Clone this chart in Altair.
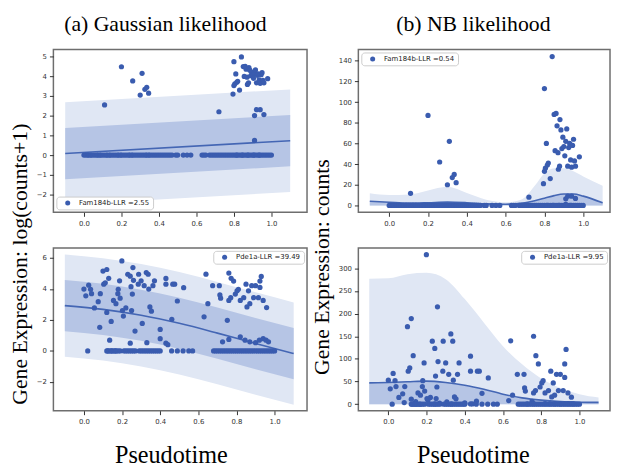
import altair as alt
import numpy as np
import pandas as pd

# ---------------- data ----------------
# Fam184b: non-zero cells (pseudotime, counts)
fam_x = [0.11, 0.20, 0.26, 0.30, 0.31, 0.325, 0.335, 0.345, 0.72,
         0.795, 0.80, 0.80, 0.805, 0.81, 0.815, 0.82, 0.83, 0.84, 0.85, 0.855,
         0.86, 0.865, 0.87, 0.872, 0.878, 0.88, 0.885, 0.89, 0.895, 0.90, 0.905,
         0.91, 0.915, 0.92, 0.925, 0.93, 0.935, 0.94, 0.945, 0.95, 0.955, 0.96,
         0.98, 0.91, 0.92, 0.94, 0.96, 0.91]
fam_counts = [11.7, 87, 42, 20, 62, 27, 30, 22, 8,
              21, 113, 33, 36, 60, 39, 41, 26, 144, 88, 53,
              89, 77, 51, 35, 38, 83, 73, 55, 66, 57, 48,
              62, 74, 38, 56, 60, 44, 37, 58, 64, 43, 38,
              47, 6.4, 9, 9, 6.8, 1.1]
fam_zero_x = [0.00, 0.01, 0.02, 0.025, 0.035, 0.04, 0.05, 0.06, 0.07, 0.075, 0.085,
              0.09, 0.10, 0.11, 0.12, 0.125, 0.135, 0.14, 0.15, 0.16, 0.17, 0.18,
              0.185, 0.195, 0.20, 0.21, 0.22, 0.23, 0.24, 0.245, 0.255, 0.26, 0.27,
              0.28, 0.29, 0.30, 0.31, 0.32, 0.33, 0.335, 0.345, 0.35, 0.36, 0.37,
              0.38, 0.39, 0.40, 0.41, 0.42, 0.43, 0.44, 0.45, 0.46, 0.47, 0.49,
              0.50, 0.53, 0.55, 0.57, 0.63, 0.64, 0.65, 0.67, 0.68, 0.69, 0.70,
              0.71, 0.72, 0.73, 0.74, 0.75, 0.76, 0.77, 0.78, 0.79, 0.80, 0.81,
              0.815, 0.82, 0.83, 0.84, 0.845, 0.85, 0.86, 0.87, 0.875, 0.88, 0.89,
              0.90, 0.905, 0.91, 0.92, 0.93, 0.935, 0.94, 0.95, 0.96, 0.97, 0.98,
              0.99, 1.00]

# Pde1a: non-zero cells (pseudotime, counts)
pde_x = [0.00, 0.01, 0.025, 0.035, 0.04, 0.055, 0.075, 0.083, 0.086, 0.10, 0.104,
         0.112, 0.12, 0.12, 0.13, 0.135, 0.143, 0.155, 0.168, 0.178, 0.18, 0.187,
         0.19, 0.199, 0.202, 0.207, 0.22, 0.23, 0.243, 0.247, 0.257, 0.26, 0.254,
         0.25, 0.268, 0.243, 0.287, 0.285, 0.30, 0.306, 0.316, 0.327, 0.337, 0.34,
         0.346, 0.354, 0.33, 0.37, 0.362, 0.40, 0.40, 0.43, 0.43, 0.43, 0.44,
         0.461, 0.466, 0.476, 0.49, 0.523, 0.63, 0.64, 0.65, 0.675, 0.71, 0.713,
         0.717, 0.727, 0.752, 0.76, 0.772, 0.785, 0.76, 0.77, 0.76, 0.794, 0.803,
         0.81, 0.82, 0.838, 0.85, 0.855, 0.863, 0.87, 0.88, 0.89, 0.90, 0.915,
         0.923, 0.93, 0.923, 0.94, 0.958, 0.82, 0.845, 0.87, 0.90, 0.92, 0.94,
         0.955, 0.968]
pde_counts = [53, 34, 68, 52, 39, 15, 23, 3.6, 39, 171, 73,
              80, 189, 11, 107, 1, 5.7, 25, 20, 39, 52, 91,
              29, 330, 12.5, 8.5, 15, 139, 123, 62, 215, 94, 38,
              12.5, 2.6, 0.65, 139, 73, 91, 4.9, 66, 155, 139, 53,
              16, 12, 0.7, 91, 66, 3, 1.2, 73, 106, 0.65, 0.5,
              6.7, 73, 73, 24, 58, 8, 140, 20, 66, 66, 36,
              29, 0.8, 6.2, 150, 107, 89, 25, 30, 1.1, 38, 47,
              52, 25, 30, 73, 16, 47, 20, 66, 30, 66, 30,
              89, 121, 59, 25, 15.4, 1.5, 1, 0.8, 0.7, 1, 1.2,
              1, 0.8]
pde_zero_x = [0.02, 0.12, 0.125, 0.13, 0.14, 0.145, 0.15, 0.16, 0.165, 0.17, 0.18,
              0.19, 0.21, 0.22, 0.23, 0.24, 0.25, 0.26, 0.27, 0.29, 0.30, 0.31,
              0.32, 0.33, 0.34, 0.35, 0.36, 0.37, 0.38, 0.39, 0.40, 0.46, 0.49,
              0.52, 0.55, 0.57, 0.68, 0.69, 0.70, 0.71, 0.72, 0.73, 0.74, 0.75,
              0.76, 0.77, 0.78, 0.79, 0.80, 0.81, 0.82, 0.83, 0.84, 0.85, 0.86,
              0.87, 0.88, 0.89, 0.90, 0.91, 0.92, 0.93, 0.94, 0.95, 0.96, 0.97,
              0.98, 0.99, 1.00]

# Model bands
g_fam_t = [-0.1, 1.1]
g_fam_mean = [0.08, 0.73]
g_fam_ilo = [-1.22, -0.57]
g_fam_ihi = [1.38, 2.03]
g_fam_olo = [-2.52, -1.87]
g_fam_ohi = [2.68, 3.33]

g_pde_t = [-0.1, 0.1, 0.3, 0.5, 0.7, 0.9, 1.1]
g_pde_mean = [2.92, 2.68, 2.30, 1.78, 1.15, 0.48, -0.17]
g_pde_ilo = [1.27, 1.03, 0.65, 0.13, -0.50, -1.17, -1.82]
g_pde_ihi = [4.57, 4.33, 3.95, 3.43, 2.80, 2.13, 1.48]
g_pde_olo = [-0.38, -0.62, -1.00, -1.52, -2.15, -2.82, -3.47]
g_pde_ohi = [6.22, 5.98, 5.60, 5.08, 4.45, 3.78, 3.13]

nb_fam_t = [-0.1, 0.0, 0.1, 0.2, 0.3, 0.4, 0.5, 0.6, 0.65, 0.7, 0.75, 0.8, 0.85,
            0.9, 0.95, 1.0, 1.1]
nb_fam_mean = [4, 3, 2.2, 2.6, 3.2, 2.6, 1.5, 1.2, 1.5, 2.5, 4.5, 7, 9.5, 11, 11, 9, 2.5]
nb_fam_lo = [0, 0, 0, 0, 0, 0, 0, 0, 0, 0, 0, 0, 0, 0, 0, 0, 0]
nb_fam_hi = [11.7, 10, 10.5, 14.5, 18, 12, 5.5, 3, 4, 8, 19, 31, 36, 36, 33, 28, 19]

nb_pde_t = [-0.1, 0.0, 0.1, 0.2, 0.3, 0.4, 0.5, 0.6, 0.7, 0.8, 0.9, 1.0, 1.1]
nb_pde_mean = [47, 48, 49.5, 51, 48, 42, 33, 22, 14, 9, 6, 4.5, 4]
nb_pde_lo = [0, 0, 0, 0, 0, 0, 0, 0, 0, 0, 0, 0, 0]
nb_pde_hi = [277, 278, 287, 290, 276, 232, 180, 128, 88, 57, 36, 22, 15]

x_ticks = [0.0, 0.2, 0.4, 0.6, 0.8, 1.0]

# ---------------- styling ----------------
PT = "#3a5caf"
LINE = "#4466b4"
OUTER = "#e0e7f4"
INNER = "#b6c5e5"
SERIF = "Liberation Serif"


def points_df(xs, vs, zxs, label):
    return pd.DataFrame({"t": list(xs) + list(zxs),
                         "v": list(vs) + [0.0] * len(zxs),
                         "lab": label})


def panel(pts, band, xdom, ydom, width, lorient, xax, yax, interp, title=None):
    xs = alt.Scale(domain=xdom, nice=False, zero=False)
    ysc = alt.Scale(domain=ydom, nice=False, zero=False)
    X = alt.X("t:Q", scale=xs, axis=xax)
    outer = alt.Chart(band).mark_area(color=OUTER, interpolate=interp).encode(
        x=X, y=alt.Y("olo:Q", scale=ysc, axis=yax), y2="ohi:Q")
    inner = alt.Chart(band).mark_area(color=INNER, interpolate=interp).encode(
        x=X, y=alt.Y("ilo:Q", scale=ysc, axis=yax), y2="ihi:Q")
    line = alt.Chart(band).mark_line(color=LINE, strokeWidth=1.6,
                                     interpolate=interp).encode(
        x=X, y=alt.Y("mean:Q", scale=ysc, axis=yax))
    dots = alt.Chart(pts).mark_circle(size=28, opacity=1).encode(
        x=X, y=alt.Y("v:Q", scale=ysc, axis=yax),
        color=alt.Color("lab:N", scale=alt.Scale(range=[PT]),
                        legend=alt.Legend(orient=lorient, offset=3, title=None,
                                          fillColor="white", strokeColor="#cccccc",
                                          cornerRadius=3, padding=3,
                                          labelFont="DejaVu Sans", labelFontSize=7,
                                          labelColor="#222222", symbolSize=26,
                                          symbolType="circle", symbolOffset=5,
                                          labelOffset=8, symbolStrokeWidth=0)))
    ch = alt.layer(outer, inner, line, dots).properties(width=width, height=165)
    if title is not None:
        ch = ch.properties(title=title)
    return ch


def yaxis(ticks, title=None, tx=None, ty=None):
    kw = dict(values=ticks, format="d")
    if title is None:
        kw["title"] = None
    else:
        kw.update(title=title, titleX=tx, titleY=ty, titleAngle=270,
                  titleAlign="center", titleBaseline="alphabetic", titleFontSize=22)
    return alt.Axis(**kw)


def xaxis(title=None, tx=None):
    kw = dict(values=x_ticks, format=".1f")
    if title is None:
        kw["title"] = None
    else:
        kw.update(title=title, titleX=tx, titleY=52, titleAlign="center",
                  titleBaseline="alphabetic", titleFontSize=24.5)
    return alt.Axis(**kw)


def band_df(t, mean, ilo, ihi, olo, ohi):
    return pd.DataFrame({"t": t, "mean": mean, "ilo": ilo, "ihi": ihi,
                         "olo": olo, "ohi": ohi})


def col_title(text, dx):
    return alt.TitleParams(text, font=SERIF, fontSize=22, fontWeight="normal",
                           color="black", offset=14, dx=dx, anchor="middle")


fam_pts_counts = points_df(fam_x, fam_counts, fam_zero_x, "Fam184b-LLR =0.54")
fam_pts_log = points_df(fam_x, list(np.log1p(fam_counts)), fam_zero_x,
                        "Fam184b-LLR =2.55")
pde_pts_counts = points_df(pde_x, pde_counts, pde_zero_x, "Pde1a-LLR =9.95")
pde_pts_log = points_df(pde_x, list(np.log1p(pde_counts)), pde_zero_x,
                        "Pde1a-LLR =39.49")

tl = panel(fam_pts_log,
           band_df(g_fam_t, g_fam_mean, g_fam_ilo, g_fam_ihi, g_fam_olo, g_fam_ohi),
           [-0.163, 1.19], [-2.9, 5.35], 257, "bottom-left",
           xaxis(),
           yaxis([-2, -1, 0, 1, 2, 3, 4, 5], "Gene Expression: log(counts+1)", -27, 217),
           "linear", title=col_title("(a) Gaussian likelihood", -15))
tr = panel(fam_pts_counts,
           band_df(nb_fam_t, nb_fam_mean, nb_fam_lo, nb_fam_mean, nb_fam_lo, nb_fam_hi),
           [-0.159, 1.138], [-6.7, 150.8], 255, "top-left",
           xaxis(),
           yaxis([0, 20, 40, 60, 80, 100, 120, 140], "Gene Expression: counts", -30, 220),
           "monotone", title=col_title("(b) NB likelihood", -11))
bl = panel(pde_pts_log,
           band_df(g_pde_t, g_pde_mean, g_pde_ilo, g_pde_ihi, g_pde_olo, g_pde_ohi),
           [-0.16, 1.17], [-3.85, 6.64], 257, "top-right",
           xaxis("Pseudotime", 119),
           yaxis([-2, 0, 2, 4, 6]),
           "monotone")
br = panel(pde_pts_counts,
           band_df(nb_pde_t, nb_pde_mean, nb_pde_lo, nb_pde_mean, nb_pde_lo, nb_pde_hi),
           [-0.157, 1.16], [-14.4, 345], 255, "top-right",
           xaxis("Pseudotime", 116),
           yaxis([0, 50, 100, 150, 200, 250, 300]),
           "monotone")

chart = alt.concat(tl, tr, bl, br, columns=2, spacing={"row": 36, "column": 52},
                   bounds="flush").resolve_scale(
    x="independent", y="independent", color="independent").resolve_legend(
    color="independent").properties(
    padding={"left": 0, "top": 1, "right": 0, "bottom": 0}
).configure_view(
    stroke="#6e6e6e", strokeWidth=1.5
).configure_axis(
    grid=False, domain=False, ticks=True, tickSize=4, tickColor="#333333",
    tickWidth=1, labelFont="DejaVu Sans", labelFontSize=7, labelColor="#333333",
    labelPadding=3, titleFont=SERIF, titleFontWeight="normal", titleColor="black"
)

chart.save("out.html", embed_options={"renderer": "svg", "actions": False})
